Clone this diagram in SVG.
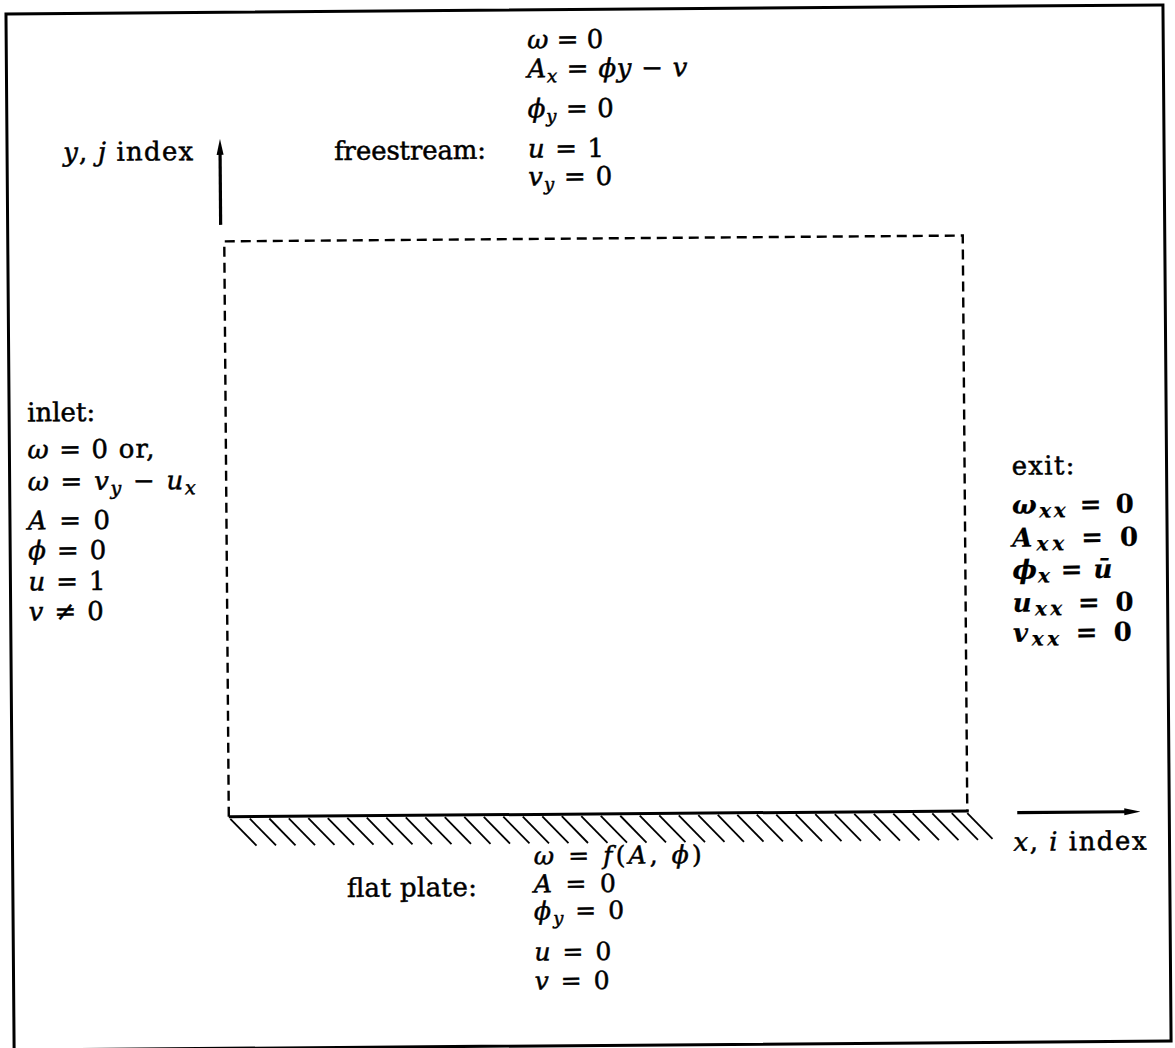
<svg xmlns="http://www.w3.org/2000/svg" width="1175" height="1048" viewBox="0 0 1175 1048">
<style>
.t{font-family:"DejaVu Serif","Liberation Serif",serif;font-size:26px;fill:#000;stroke:#000;stroke-width:0.5}
.b{font-size:26px}
.bw{font-size:26px;font-weight:bold;stroke-width:0.2}
.sm{font-size:25px}
.i{font-style:italic}
.s{font-size:18px}
.sb{font-size:19px}
.sx{font-size:20px}
.dash{fill:none;stroke:#000;stroke-width:2.4;stroke-dasharray:10 6}
.solid{fill:none;stroke:#000;stroke-width:3}
.hatch{stroke:#000;stroke-width:1.8}
.ax{stroke:#000;stroke-width:3.2;fill:none}
</style>
<defs>
<marker id="ah" viewBox="0 0 16 10" refX="2" refY="5" markerWidth="16" markerHeight="10" markerUnits="userSpaceOnUse" orient="auto">
<path d="M0,1.5 L16,5 L0,8.5 Z" fill="#000"/>
</marker>
</defs>
<rect width="1175" height="1048" fill="#fff"/>
<g transform="rotate(-0.45 587 524)">
<rect id="frame" x="10" y="9.5" width="1157" height="1036" fill="none" stroke="#000" stroke-width="3"/>
<g id="domain">
<path class="dash" d="M226.5,814 V238.5 H965 V814"/>
<line class="solid" x1="226.5" y1="814" x2="966.5" y2="814"/>
<g id="hatches">
<line class="hatch" x1="228" y1="816" x2="254" y2="843"/>
<line class="hatch" x1="247.5" y1="816" x2="273.5" y2="843"/>
<line class="hatch" x1="267" y1="816" x2="293" y2="843"/>
<line class="hatch" x1="286.5" y1="816" x2="312.5" y2="843"/>
<line class="hatch" x1="306" y1="816" x2="332" y2="843"/>
<line class="hatch" x1="325.5" y1="816" x2="351.5" y2="843"/>
<line class="hatch" x1="345" y1="816" x2="371" y2="843"/>
<line class="hatch" x1="364.5" y1="816" x2="390.5" y2="843"/>
<line class="hatch" x1="384" y1="816" x2="410" y2="843"/>
<line class="hatch" x1="403.5" y1="816" x2="429.5" y2="843"/>
<line class="hatch" x1="423" y1="816" x2="449" y2="843"/>
<line class="hatch" x1="442.5" y1="816" x2="468.5" y2="843"/>
<line class="hatch" x1="462" y1="816" x2="488" y2="843"/>
<line class="hatch" x1="481.5" y1="816" x2="507.5" y2="843"/>
<line class="hatch" x1="501" y1="816" x2="527" y2="843"/>
<line class="hatch" x1="520.5" y1="816" x2="546.5" y2="843"/>
<line class="hatch" x1="540" y1="816" x2="566" y2="843"/>
<line class="hatch" x1="559.5" y1="816" x2="585.5" y2="843"/>
<line class="hatch" x1="579" y1="816" x2="605" y2="843"/>
<line class="hatch" x1="598.5" y1="816" x2="624.5" y2="843"/>
<line class="hatch" x1="618" y1="816" x2="644" y2="843"/>
<line class="hatch" x1="637.5" y1="816" x2="663.5" y2="843"/>
<line class="hatch" x1="657" y1="816" x2="683" y2="843"/>
<line class="hatch" x1="676.5" y1="816" x2="702.5" y2="843"/>
<line class="hatch" x1="696" y1="816" x2="722" y2="843"/>
<line class="hatch" x1="715.5" y1="816" x2="741.5" y2="843"/>
<line class="hatch" x1="735" y1="816" x2="761" y2="843"/>
<line class="hatch" x1="754.5" y1="816" x2="780.5" y2="843"/>
<line class="hatch" x1="774" y1="816" x2="800" y2="843"/>
<line class="hatch" x1="793.5" y1="816" x2="819.5" y2="843"/>
<line class="hatch" x1="813" y1="816" x2="839" y2="843"/>
<line class="hatch" x1="832.5" y1="816" x2="858.5" y2="843"/>
<line class="hatch" x1="852" y1="816" x2="878" y2="843"/>
<line class="hatch" x1="871.5" y1="816" x2="897.5" y2="843"/>
<line class="hatch" x1="891" y1="816" x2="917" y2="843"/>
<line class="hatch" x1="910.5" y1="816" x2="936.5" y2="843"/>
<line class="hatch" x1="930" y1="816" x2="956" y2="843"/>
<line class="hatch" x1="949.5" y1="816" x2="975.5" y2="843"/>
<line class="hatch" x1="965" y1="816" x2="990" y2="842"/>
</g>
</g>
<g id="connectors">
<line class="ax" x1="223" y1="222" x2="223" y2="150" marker-end="url(#ah)"/>
<line class="ax" x1="1015" y1="816" x2="1124" y2="816" marker-end="url(#ah)"/>
</g>
<g id="yaxis-label">
<text class="t" x="66" y="157" textLength="130" lengthAdjust="spacing"><tspan class="i">y</tspan>, <tspan class="i">j</tspan> index</text>
</g>
<g id="xaxis-label">
<text class="t" x="1011" y="854" textLength="133" lengthAdjust="spacing"><tspan class="i">x</tspan>, <tspan class="i">i</tspan> index</text>
</g>
<g id="freestream">
<text class="t" x="337" y="158" textLength="152" lengthAdjust="spacing">freestream:</text>
<text class="t" x="531" y="48" textLength="76" lengthAdjust="spacing"><tspan class="i">ω</tspan> = 0</text>
<text class="t" x="531" y="77" textLength="160" lengthAdjust="spacing"><tspan class="i">A</tspan><tspan class="i s" dy="5">x</tspan><tspan dy="-5"> = </tspan><tspan class="i">ϕ</tspan><tspan class="i">y</tspan> − <tspan class="i">v</tspan></text>
<text class="t" x="531" y="117" textLength="86" lengthAdjust="spacing"><tspan class="i">ϕ</tspan><tspan class="i s" dy="5">y</tspan><tspan dy="-5"> = 0</tspan></text>
<text class="t" x="531" y="157" textLength="76" lengthAdjust="spacing"><tspan class="i">u</tspan> = 1</text>
<text class="t" x="531" y="185" textLength="84" lengthAdjust="spacing"><tspan class="i">v</tspan><tspan class="i s" dy="5">y</tspan><tspan dy="-5"> = 0</tspan></text>
</g>
<g id="inlet">
<text class="t" x="28" y="417" textLength="68" lengthAdjust="spacing">inlet:</text>
<text class="t b" x="28" y="454" textLength="127" lengthAdjust="spacing"><tspan class="i">ω</tspan> = 0 or,</text>
<text class="t b" x="28" y="486" textLength="168" lengthAdjust="spacing"><tspan class="i">ω</tspan> = <tspan class="i">v</tspan><tspan class="i sb" dy="5">y</tspan><tspan dy="-5"> − </tspan><tspan class="i">u</tspan><tspan class="i sb" dy="5">x</tspan></text>
<text class="t b" x="28" y="525" textLength="82" lengthAdjust="spacing"><tspan class="i">A</tspan> = 0</text>
<text class="t b" x="28" y="555" textLength="78" lengthAdjust="spacing"><tspan class="i">ϕ</tspan> = 0</text>
<text class="t b" x="28" y="586" textLength="77" lengthAdjust="spacing"><tspan class="i">u</tspan> = 1</text>
<text class="t b" x="28" y="616" textLength="75" lengthAdjust="spacing"><tspan class="i">v</tspan> ≠ 0</text>
</g>
<g id="exit">
<text class="t" x="1012" y="478" textLength="63" lengthAdjust="spacing">exit:</text>
<text class="t bw" x="1012" y="517" textLength="122" lengthAdjust="spacing"><tspan class="i">ω</tspan><tspan class="i sx" dy="4">xx</tspan><tspan dy="-4"> = 0</tspan></text>
<text class="t bw" x="1012" y="550" textLength="126" lengthAdjust="spacing"><tspan class="i">A</tspan><tspan class="i sx" dy="4">xx</tspan><tspan dy="-4"> = 0</tspan></text>
<text class="t bw" x="1012" y="582" textLength="100" lengthAdjust="spacing"><tspan class="i">ϕ</tspan><tspan class="i sx" dy="4">x</tspan><tspan dy="-4"> = </tspan><tspan class="i">ū</tspan></text>
<text class="t bw" x="1012" y="615" textLength="121" lengthAdjust="spacing"><tspan class="i">u</tspan><tspan class="i sx" dy="4">xx</tspan><tspan dy="-4"> = 0</tspan></text>
<text class="t bw" x="1012" y="645" textLength="119" lengthAdjust="spacing"><tspan class="i">v</tspan><tspan class="i sx" dy="4">xx</tspan><tspan dy="-4"> = 0</tspan></text>
</g>
<g id="flatplate">
<text class="t" x="344" y="895" textLength="130" lengthAdjust="spacing">flat plate:</text>
<text class="t sm" x="531" y="864" textLength="168" lengthAdjust="spacing"><tspan class="i">ω</tspan> = <tspan class="i">f</tspan>(<tspan class="i">A</tspan>, <tspan class="i">ϕ</tspan>)</text>
<text class="t sm" x="531" y="892" textLength="82" lengthAdjust="spacing"><tspan class="i">A</tspan> = 0</text>
<text class="t sm" x="531" y="919" textLength="90" lengthAdjust="spacing"><tspan class="i">ϕ</tspan><tspan class="i s" dy="5">y</tspan><tspan dy="-5"> = 0</tspan></text>
<text class="t sm" x="531" y="960" textLength="77" lengthAdjust="spacing"><tspan class="i">u</tspan> = 0</text>
<text class="t sm" x="531" y="989" textLength="75" lengthAdjust="spacing"><tspan class="i">v</tspan> = 0</text>
</g>
</g>
</svg>
